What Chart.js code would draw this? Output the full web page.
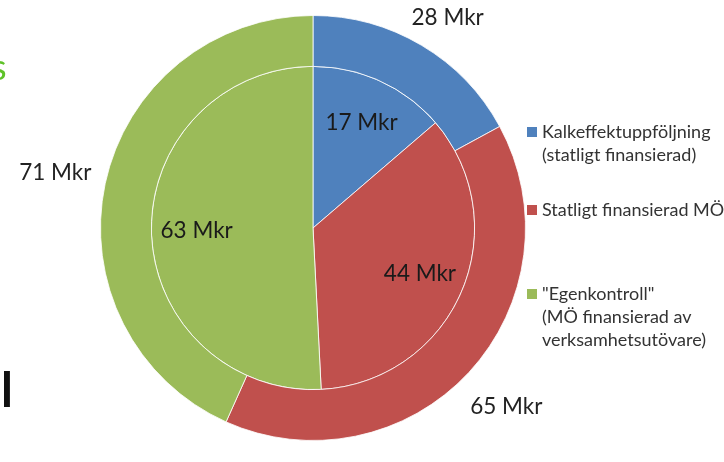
<!DOCTYPE html>
<html>
<head>
<meta charset="utf-8">
<script src="https://cdn.jsdelivr.net/npm/chart.js@4"></script>
<style>
  body { margin: 0; background: #fff; }
  #wrap { position: relative; width: 724px; height: 462px; overflow: hidden; }
  .stray { position: absolute; font-family: Lato, sans-serif; }
</style>
</head>
<body>
<div id="wrap">
  <canvas id="mkrChart"></canvas>
  <div class="stray" style="left:-9px; top:44px; color:#5fc229; font-size:36px;">s</div>
  <div class="stray" style="left:1px; top:360px; color:#111; font-size:48px; font-weight:bold;">l</div>
</div>
<script>
// Kategorier (legend), rader per kategori
const categories = [
    ['Kalkeffektuppföljning', '(statligt finansierad)'],
    ['Statligt finansierad MÖ'],
    ['"Egenkontroll"', '(MÖ finansierad av', 'verksamhetsutövare)']
];
// Yttre ring och inre cirkel (Mkr)
const outerValues = [28, 65, 71];
const innerValues = [17, 44, 63];
const colors = ['#4f81bd', '#c0504d', '#9bbb59'];

const canvas = document.getElementById('mkrChart');
const ctx = canvas.getContext('2d');

// Etiketter "xx Mkr" vid varje sektor
const valueLabels = {
    id: 'valueLabels',
    afterDatasetsDraw(chart) {
        const c = chart.ctx;
        c.save();
        c.font = '22.5px Lato, sans-serif';
        c.textAlign = 'center';
        c.textBaseline = 'middle';
        chart.data.datasets.forEach((ds, di) => {
            const meta = chart.getDatasetMeta(di);
            meta.data.forEach((arc, i) => {
                const mid = (arc.startAngle + arc.endAngle) / 2;
                let r;
                if (di === 0) {
                    r = arc.outerRadius * 1.24;
                } else {
                    r = arc.outerRadius * 0.72;
                }
                let x = arc.x + Math.cos(mid) * r;
                let y = arc.y + Math.sin(mid) * r;
                y = Math.max(18, Math.min(chart.height - 18, y));
                x = Math.max(45, x);
                c.fillStyle = di === 0 ? '#222' : '#1a1a1a';
                c.fillText(ds.data[i] + ' Mkr', x, y);
            });
        });
        c.restore();
    }
};

// Egen legend till höger
const sideLegend = {
    id: 'sideLegend',
    afterDraw(chart) {
        const c = chart.ctx;
        c.save();
        c.font = '18px Lato, sans-serif';
        c.textBaseline = 'middle';
        const starts = [132, 210, 294];
        const lineH = 23;
        categories.forEach((lines, i) => {
            c.fillStyle = colors[i];
            c.fillRect(527, starts[i] - 5, 10, 10);
            c.fillStyle = '#333';
            lines.forEach((t, j) => {
                c.fillText(t, 542, starts[i] + j * lineH);
            });
        });
        c.restore();
    }
};

const chart = new Chart(ctx, {
    type: 'pie',
    data: {
        labels: categories.map(l => l.join(' ')),
        datasets: [
            {
                data: outerValues,
                backgroundColor: colors,
                borderColor: 'rgba(255,255,255,0.8)',
                borderWidth: 1,
                weight: 51
            },
            {
                data: innerValues,
                backgroundColor: colors,
                borderColor: 'rgba(255,255,255,0.8)',
                borderWidth: 1,
                weight: 162
            }
        ]
    },
    options: {
        responsive: true,
        maintainAspectRatio: false,
        animation: false,
        layout: {
            padding: { left: 100, right: 198, top: 15, bottom: 21 }
        },
        plugins: {
            legend: { display: false },
            tooltip: { enabled: false }
        }
    },
    plugins: [valueLabels, sideLegend]
});
</script>
</body>
</html>
